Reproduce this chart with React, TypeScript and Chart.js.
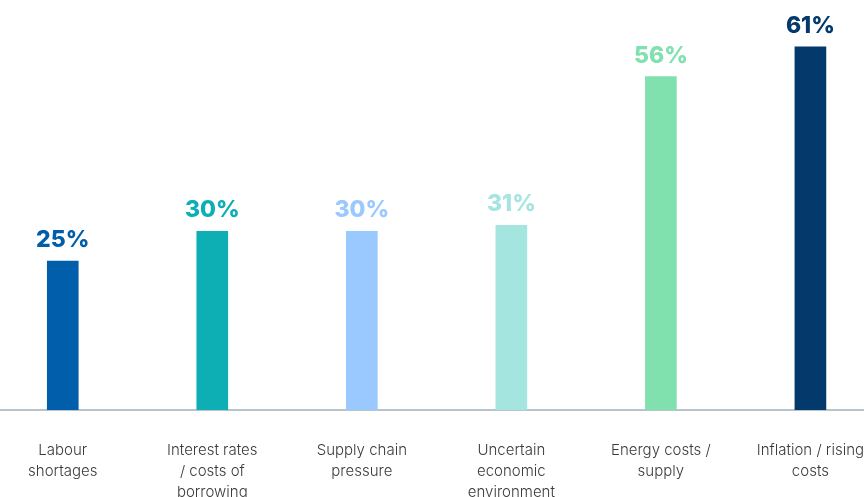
import React, { useEffect, useRef } from "react";
import { Chart, registerables } from "chart.js";

Chart.register(...registerables);

const categories: string[][] = [
  ["Labour", "shortages"],
  ["Interest rates", "/ costs of", "borrowing"],
  ["Supply chain", "pressure"],
  ["Uncertain", "economic", "environment"],
  ["Energy costs /", "supply"],
  ["Inflation / rising", "costs"],
];
const values: number[] = [25, 30, 30, 31, 56, 61];
const barColors: string[] = ["#005EAA", "#0DAFB5", "#99C9FF", "#A5E5E0", "#80E1AF", "#033A6B"];

const valueLabels = {
  id: "valueLabels",
  afterDatasetsDraw(chart: any) {
    const ctx = chart.ctx;
    const meta = chart.getDatasetMeta(0);
    ctx.save();
    ctx.font = "800 23px Inter";
    ctx.textAlign = "center";
    ctx.textBaseline = "middle";
    meta.data.forEach((bar: any, i: number) => {
      ctx.fillStyle = barColors[i];
      ctx.fillText(values[i] + "%", bar.x, bar.y - 21);
    });
    ctx.restore();
  },
};

export default function App() {
  const ref = useRef<HTMLCanvasElement>(null);
  useEffect(() => {
    if (!ref.current) return;
    const chart = new Chart(ref.current, {
      type: "bar",
      data: {
        labels: categories,
        datasets: [
          {
            data: values,
            backgroundColor: barColors,
            barThickness: 31,
          },
        ],
      },
      options: {
        animation: false,
        responsive: false,
        maintainAspectRatio: false,
        layout: { padding: { top: 23, left: 0, right: 0, bottom: 0 } },
        plugins: { legend: { display: false }, tooltip: { enabled: false } },
        scales: {
          x: {
            grid: { display: false, drawTicks: false },
            border: { display: true, color: "#B7C4CC", width: 2 },
            ticks: {
              color: "#3A3A3A",
              font: { family: "Inter", size: 15, weight: "300", lineHeight: 1.4 },
              padding: 30,
              maxRotation: 0,
              autoSkip: false,
            },
            afterFit(scale: any) {
              scale.height = 100;
            },
          },
          y: {
            display: false,
            min: 0,
            max: 65,
          },
        },
      },
      plugins: [valueLabels],
    });
    return () => chart.destroy();
  }, []);
  return (
    <div
      style={{
        position: "absolute",
        left: 0,
        top: 0,
        width: 864,
        height: 497,
        overflow: "hidden",
        background: "#fff",
      }}
    >
      <canvas
        ref={ref}
        width={906}
        height={510}
        style={{ position: "absolute", left: -12, top: 0, width: 906, height: 510 }}
      />
    </div>
  );
}
